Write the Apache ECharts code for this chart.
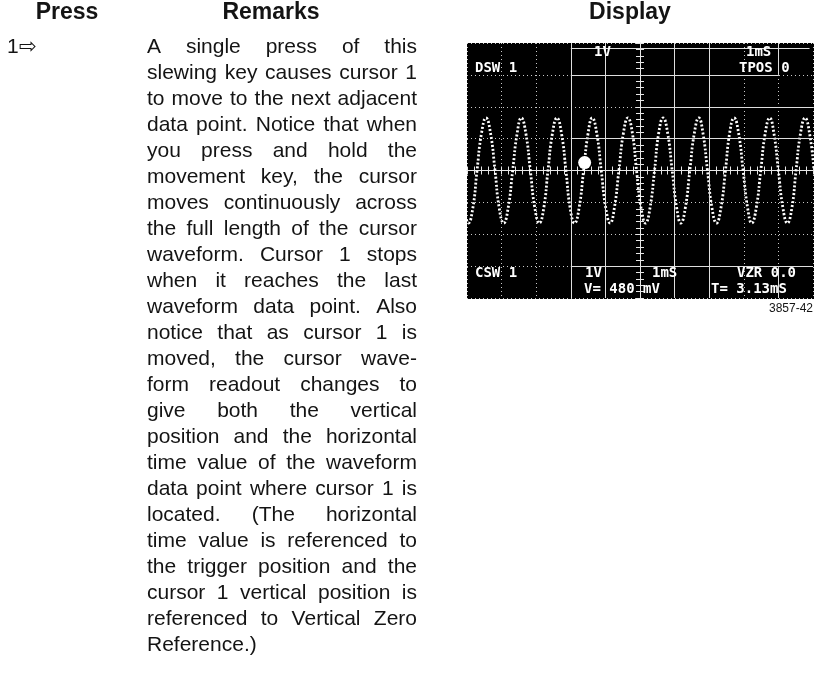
<!DOCTYPE html>
<html>
<head>
<meta charset="utf-8">
<script src="https://cdn.jsdelivr.net/npm/echarts@6/dist/echarts.min.js"></script>
<style>
html,body{margin:0;padding:0;background:#ffffff;}
#c{width:819px;height:675px;}
</style>
</head>
<body>
<div id="c"></div>
<script>
// ---------------- data ----------------
const headers = ['Press', 'Remarks', 'Display'];
const pressKey = '1\u21E8';
const remarkLines = [
  'A single press of this',
  'slewing key causes cursor 1',
  'to move to the next adjacent',
  'data point. Notice that when',
  'you press and hold the',
  'movement key, the cursor',
  'moves continuously across',
  'the full length of the cursor',
  'waveform. Cursor 1 stops',
  'when it reaches the last',
  'waveform data point. Also',
  'notice that as cursor 1 is',
  'moved, the cursor wave-',
  'form readout changes to',
  'give both the vertical',
  'position and the horizontal',
  'time value of the waveform',
  'data point where cursor 1 is',
  'located. (The horizontal',
  'time value is referenced to',
  'the trigger position and the',
  'cursor 1 vertical position is',
  'referenced to Vertical Zero',
  'Reference.)'
];
// waveform samples read from the display: time (ms, 1 ms/div) and volts (1 V/div)
const waveTime = [
  -0.09,
  0.04, 0.17, 0.29, 0.42, 0.55, 0.68, 0.81, 0.93,
  1.06, 1.19, 1.32, 1.45, 1.57, 1.70, 1.83, 1.96,
  2.09, 2.22, 2.34, 2.47, 2.60, 2.73, 2.86, 2.98,
  3.11, 3.24, 3.37, 3.50, 3.62, 3.75, 3.88, 4.01,
  4.14, 4.26, 4.39, 4.52, 4.65, 4.78, 4.90, 5.03,
  5.16, 5.29, 5.42, 5.54, 5.67, 5.80, 5.93, 6.06,
  6.18, 6.31, 6.44, 6.57, 6.70, 6.82, 6.95, 7.08,
  7.21, 7.34, 7.47, 7.59, 7.72, 7.85, 7.98, 8.11,
  8.23, 8.36, 8.49, 8.62, 8.75, 8.87, 9.00, 9.13,
  9.26, 9.39, 9.51, 9.64, 9.77, 9.90, 10.03
];
const waveVolts = [
  -1.17,
  -1.65, -1.17, 0.00, 1.17, 1.65, 1.17, 0.00, -1.17,
  -1.65, -1.17, 0.00, 1.17, 1.65, 1.17, 0.00, -1.17,
  -1.65, -1.17, 0.00, 1.17, 1.65, 1.17, 0.00, -1.17,
  -1.65, -1.17, 0.00, 1.17, 1.65, 1.17, 0.00, -1.17,
  -1.65, -1.17, 0.00, 1.17, 1.65, 1.17, 0.00, -1.17,
  -1.65, -1.17, 0.00, 1.17, 1.65, 1.17, 0.00, -1.17,
  -1.65, -1.17, 0.00, 1.17, 1.65, 1.17, 0.00, -1.17,
  -1.65, -1.17, 0.00, 1.17, 1.65, 1.17, 0.00, -1.17,
  -1.65, -1.17, 0.00, 1.17, 1.65, 1.17, 0.00, -1.17,
  -1.65, -1.17, 0.00, 1.17, 1.65, 1.17, 0.00
];
const cursorTime = 3.40;
const cursorVolts = 0.25;
const readoutTop = ['1V', '1mS', 'DSW 1', 'TPOS 0'];
const readoutBottom = ['CSW 1', '1V', '1mS', 'VZR 0.0', 'V= 480 mV', 'T= 3.13mS'];
const figureNumber = '3857-42';

// ---------------- layout / styles ----------------
const BODY_FONT = '21px "Liberation Sans", Arial, "DejaVu Sans", sans-serif';
const HEAD_FONT = 'bold 23px "Liberation Sans", Arial, sans-serif';
const SCOPE_FONT = 'bold 14px "DejaVu Sans Mono", "Liberation Mono", monospace';
const INK = '#141414';

const measure = document.createElement('canvas').getContext('2d');
measure.font = BODY_FONT;

function txt(x, y, text, font, fill, align, z) {
  return {
    type: 'text', x: x, y: y, z: z || 5, silent: true,
    style: { text: text, font: font, fill: fill, align: align, verticalAlign: 'middle',
             textAlign: align, textVerticalAlign: 'middle' }
  };
}

const graphics = [];
// headers
graphics.push(txt(67, 13, headers[0], HEAD_FONT, INK, 'center'));
graphics.push(txt(271, 13, headers[1], HEAD_FONT, INK, 'center'));
graphics.push(txt(630, 13, headers[2], HEAD_FONT, INK, 'center'));
// press key
graphics.push(txt(7, 47, pressKey, BODY_FONT, INK, 'left'));

// justified remarks
const colLeft = 147, colWidth = 270, line0 = 47, lineStep = 26.0;
remarkLines.forEach(function (line, i) {
  const y = line0 + i * lineStep;
  const words = line.split(/\s+/);
  const widths = words.map(function (w) { return measure.measureText(w).width; });
  const total = widths.reduce(function (a, b) { return a + b; }, 0);
  const last = i === remarkLines.length - 1;
  const gap = (last || words.length < 2) ? measure.measureText(' ').width : (colWidth - total) / (words.length - 1);
  let x = colLeft;
  words.forEach(function (w, k) {
    graphics.push(txt(x, y, w, BODY_FONT, INK, 'left'));
    x += widths[k] + gap;
  });
});

// scope screen background
graphics.push({ type: 'rect', z: -10, silent: true,
  shape: { x: 467, y: 43, width: 347, height: 256 }, style: { fill: '#000000' } });

// scope readouts
const topPos = [[594, 52], [746, 52], [475, 68], [739, 68]];
readoutTop.forEach(function (t, i) {
  graphics.push(txt(topPos[i][0], topPos[i][1], t, SCOPE_FONT, '#ffffff', 'left', 20));
});
const botPos = [[475, 273], [585, 273], [652, 273], [737, 273], [584, 289], [711, 289]];
readoutBottom.forEach(function (t, i) {
  graphics.push(txt(botPos[i][0], botPos[i][1], t, SCOPE_FONT, '#ffffff', 'left', 20));
});
// figure number
graphics.push(txt(813, 309, figureNumber, '12px "Liberation Sans", Arial, sans-serif', INK, 'right'));

const dotted = { color: '#c8c8c8', type: [1, 3], width: 1 };
const centerAxisBase = {
  type: 'value', min: 0, max: 10, interval: 0.2,
  axisLine: { show: true, onZero: false, lineStyle: { color: '#e6e6e6', width: 1 } },
  axisTick: { show: true, length: 4, lineStyle: { color: '#e6e6e6', width: 1 } },
  axisLabel: { show: false }, splitLine: { show: false }
};
const centerYAxisBase = {
  type: 'value', min: -4, max: 4, interval: 0.2,
  axisLine: { show: true, onZero: false, lineStyle: { color: '#e6e6e6', width: 1 } },
  axisTick: { show: true, length: 4, lineStyle: { color: '#e6e6e6', width: 1 } },
  axisLabel: { show: false }, splitLine: { show: false }
};

function seg(x1, y1, x2, y2) { return [{ coord: [x1, y1] }, { coord: [x2, y2] }]; }

const GRID_H = 255, GRID_W = 346;
const option = {
  backgroundColor: '#ffffff',
  animation: false,
  graphic: { elements: graphics },
  grid: { left: 467, top: 43, width: GRID_W, height: GRID_H, containLabel: false, show: false },
  xAxis: [
    { type: 'value', min: 0, max: 10, interval: 1,
      axisLine: { show: false }, axisTick: { show: false }, axisLabel: { show: false },
      splitLine: { show: true, lineStyle: dotted } },
    Object.assign({}, centerAxisBase, { position: 'bottom', offset: -GRID_H / 2 }),
    Object.assign({}, centerAxisBase, { position: 'top', offset: -GRID_H / 2 })
  ],
  yAxis: [
    { type: 'value', min: -4, max: 4, interval: 1,
      axisLine: { show: false }, axisTick: { show: false }, axisLabel: { show: false },
      splitLine: { show: true, lineStyle: dotted } },
    Object.assign({}, centerYAxisBase, { position: 'left', offset: -GRID_W / 2 }),
    Object.assign({}, centerYAxisBase, { position: 'right', offset: -GRID_W / 2 })
  ],
  series: [
    {
      type: 'line', xAxisIndex: 0, yAxisIndex: 0,
      data: waveTime.map(function (t, i) { return [t, waveVolts[i]]; }),
      showSymbol: false, smooth: 0.5, silent: true, clip: true,
      lineStyle: { color: '#ffffff', width: 2.8, type: [2, 2], opacity: 1 },
      z: 4,
      markLine: {
        silent: true, symbol: 'none', animation: false, label: { show: false },
        lineStyle: { color: '#dedede', type: 'solid', width: 1 },
        data: [
          seg(3, 4, 3, -4), seg(4, 4, 4, -4), seg(6, 4, 6, -4), seg(7, 4, 7, -4),
          seg(9, 4, 9, 3), seg(9, -3, 9, -4),
          seg(3, 3.85, 9.9, 3.85), seg(3, 3, 9, 3), seg(5, 2, 10, 2), seg(3, 1, 10, 1),
          seg(3, -3, 10, -3)
        ]
      }
    },
    {
      type: 'scatter', xAxisIndex: 0, yAxisIndex: 0,
      data: [[cursorTime, cursorVolts]],
      symbol: 'circle', symbolSize: 13, silent: true, z: 6,
      itemStyle: { color: '#ffffff', opacity: 1 }
    }
  ]
};

const chart = echarts.init(document.getElementById('c'), null, { renderer: 'canvas', width: 819, height: 675 });
chart.setOption(option);
</script>
</body>
</html>
